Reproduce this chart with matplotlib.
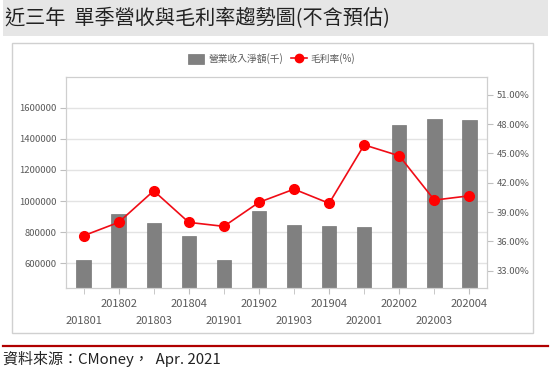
import matplotlib
matplotlib.use("Agg")
import matplotlib.pyplot as plt
from matplotlib.patches import Rectangle
from matplotlib.lines import Line2D
from matplotlib.ticker import FuncFormatter

plt.rcParams['font.family'] = ['Noto Sans CJK TC', 'DejaVu Sans']

# data
quarters = ['201801', '201802', '201803', '201804', '201901', '201902',
            '201903', '201904', '202001', '202002', '202003', '202004']
revenue = [619000, 914000, 860000, 775000, 619000, 933000,
           843000, 839000, 832000, 1491000, 1527000, 1517000]
margin = [36.58, 37.95, 41.18, 37.95, 37.54, 40.00,
          41.35, 39.90, 45.88, 44.76, 40.23, 40.67]
rev_ticks = [600000, 800000, 1000000, 1200000, 1400000, 1600000]
pct_ticks = [33, 36, 39, 42, 45, 48, 51]

W, H = 550, 385
fig = plt.figure(figsize=(W / 100, H / 100), dpi=100)

def fx(px):
    return px / W

def fy(py):
    return 1 - py / H

# title band
fig.patches.append(Rectangle((fx(3), fy(36)), fx(545), 36 / H, transform=fig.transFigure,
                             facecolor='#e6e6e6', edgecolor='none', zorder=-2))
fig.text(fx(5), fy(19), '近三年  單季營收與毛利率趨勢圖(不含預估)', fontsize=14.5,
         color='#222222', va='center', ha='left')

# chart frame
fig.patches.append(Rectangle((fx(12), fy(333)), fx(521), (333 - 42.5) / H,
                             transform=fig.transFigure, facecolor='white',
                             edgecolor='#d0d0d0', linewidth=1.0, zorder=-2))

# red rule + source
fig.add_artist(Line2D([fx(3), fx(548)], [fy(345.5), fy(345.5)], transform=fig.transFigure,
                      color='#b00000', linewidth=1.6))
fig.text(fx(3), fy(359), '資料來源：CMoney，  Apr. 2021', fontsize=10.8,
         color='#222222', va='center', ha='left')

ax = fig.add_axes([fx(66), fy(288.3), fx(487 - 66), (288.3 - 77.3) / H])
ax2 = ax.twinx()
ax.patch.set_alpha(0)

x = list(range(len(quarters)))
ax.bar(x, revenue, width=0.41, color='#808080', edgecolor='#767676', linewidth=0.5, zorder=2)
ax.set_xlim(-0.5, len(quarters) - 0.5)
ax.set_ylim(440000, 1794000)
ax.set_yticks(rev_ticks)
ax.yaxis.set_major_formatter(FuncFormatter(lambda v, p: '%d' % v))
ax.yaxis.grid(True, color='#e3e3e3', linewidth=1.0)
ax.set_axisbelow(True)

ax2.plot(x, margin, color='#f00c16', linewidth=1.2, marker='o', markersize=7,
         markerfacecolor='#ff0000', markeredgecolor='#ff0000', zorder=3)
ax2.set_ylim(31.2, 52.8)
ax2.set_yticks(pct_ticks)
ax2.yaxis.set_major_formatter(FuncFormatter(lambda v, p: '%.2f%%' % v))

# staggered x labels: odd positions upper row, even positions lower row
ax.set_xticks(x[1::2])
ax.set_xticklabels(quarters[1::2])
ax.set_xticks(x[0::2], minor=True)
ax.set_xticklabels(quarters[0::2], minor=True)
ax.tick_params(axis='x', which='major', length=4, color='#bfbfbf', pad=3.5,
               labelsize=8, labelcolor='#595959')
ax.tick_params(axis='x', which='minor', length=4, color='#bfbfbf', pad=16,
               labelsize=8, labelcolor='#595959')
ax.tick_params(axis='y', length=4, color='#bfbfbf', pad=3, labelsize=6.8,
               labelcolor='#595959')
ax2.tick_params(axis='y', length=4, color='#bfbfbf', pad=3, labelsize=6.8,
                labelcolor='#595959')

for a in (ax, ax2):
    for s in a.spines.values():
        s.set_color('#cfcfcf')
        s.set_linewidth(0.8)

handles = [Rectangle((0, 0), 1, 1, facecolor='#808080', edgecolor='#767676', linewidth=0.5),
           Line2D([], [], color='#f00c16', linewidth=1.2, marker='o', markersize=6,
                  markerfacecolor='#ff0000', markeredgecolor='#ff0000')]
fig.legend(handles, ['營業收入淨額(千)', '毛利率(%)'], loc='center',
           bbox_to_anchor=(fx(272), fy(59)), ncol=2, frameon=False, fontsize=7,
           handlelength=1.6, handleheight=1.2, handletextpad=0.45, columnspacing=0.8,
           labelcolor='#595959')

fig.savefig('out.png', dpi=100)
